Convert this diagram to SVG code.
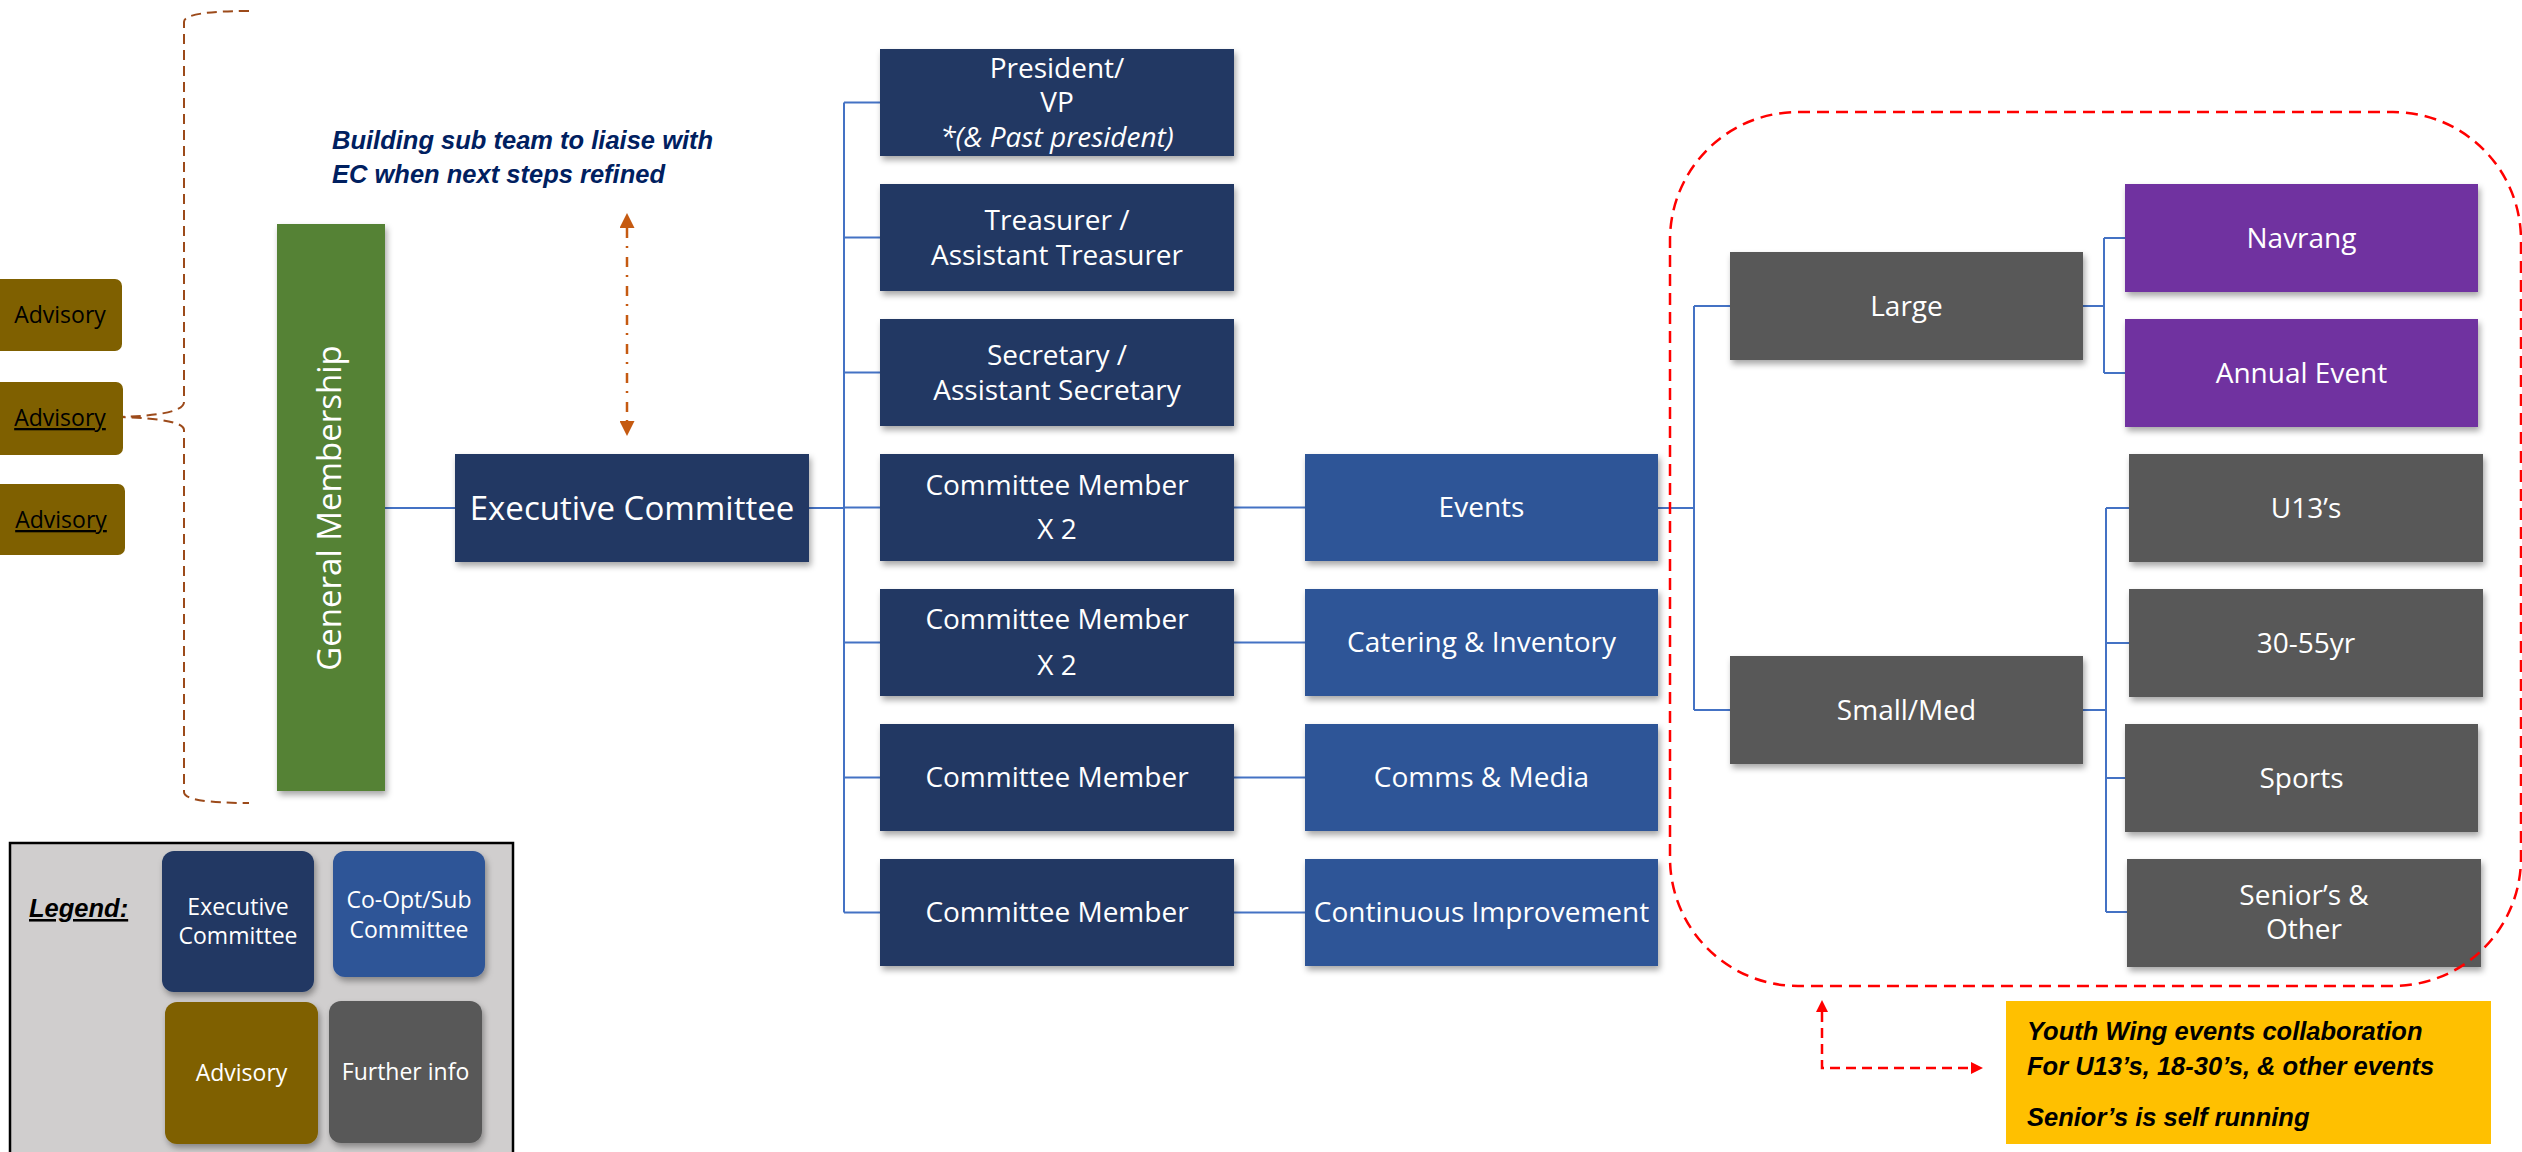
<svg xmlns="http://www.w3.org/2000/svg" width="2522" height="1152" viewBox="0 0 2522 1152">
<style>
  .t { font-family: "Open Sans", "DejaVu Sans", sans-serif; fill: #ffffff; text-anchor: middle; }
  .m { font-size: 28px; }
  .big { font-size: 33px; }
  .adv { font-family: "Open Sans", sans-serif; font-size: 23px; fill: #000000; text-anchor: middle; }
  .lg { font-size: 23px; }
  .note { font-family: "Liberation Sans", Arial, sans-serif; font-weight: bold; font-style: italic; font-size: 25.5px; }
  .ec { fill: #203864; }
  .sub { fill: #2F5597; }
  .gray { fill: #595959; }
  .pur { fill: #7030A0; }
  .advb { fill: #7F6000; }
  .conn { stroke: #4472C4; stroke-width: 2; fill: none; }
</style>
<defs>
  <filter id="sh" x="-10%" y="-10%" width="120%" height="130%">
    <feDropShadow dx="2" dy="4" stdDeviation="3" flood-color="#000" flood-opacity="0.35"/>
  </filter>
  <marker id="ao" viewBox="0 0 10 10" refX="0" refY="5" markerWidth="15" markerHeight="15" markerUnits="userSpaceOnUse" orient="auto-start-reverse">
    <path d="M0,0 L10,5 L0,10 z" fill="#C55A11"/>
  </marker>
  <marker id="ar" viewBox="0 0 10 10" refX="0" refY="5" markerWidth="12" markerHeight="12" markerUnits="userSpaceOnUse" orient="auto-start-reverse">
    <path d="M0,0 L10,5 L0,10 z" fill="#FF0000"/>
  </marker>
</defs>
<rect width="2522" height="1152" fill="#ffffff"/>

<!-- connectors -->
<g id="connectors">
  <path class="conn" d="M385,508 H455"/>
  <path class="conn" d="M809,508 H844 M844,102.5 V912.5 M844,102.5 H880 M844,237.5 H880 M844,372.5 H880 M844,507.5 H880 M844,642.5 H880 M844,777.5 H880 M844,912.5 H880"/>
  <path class="conn" d="M1234,507.5 H1305 M1234,642.5 H1305 M1234,777.5 H1305 M1234,912.5 H1305"/>
  <path class="conn" d="M1658,508 H1694 M1694,306 V710 M1694,306 H1730 M1694,710 H1730"/>
  <path class="conn" d="M2083,306 H2104 M2104,238 V373 M2104,238 H2125 M2104,373 H2125"/>
  <path class="conn" d="M2083,710 H2106 M2106,508 V912 M2106,508 H2129 M2106,643 H2129 M2106,778 H2125 M2106,912 H2127"/>
  <path d="M249,11 Q184,11 184,22 V402 Q184,415 120,417 Q184,419 184,430 V792 Q184,803 249,803" fill="none" stroke="#9C4A1A" stroke-width="2" stroke-dasharray="10 6"/>
  <path d="M627,228 V421" fill="none" stroke="#C55A11" stroke-width="2.5" stroke-dasharray="10 8 2 9" marker-start="url(#ao)" marker-end="url(#ao)"/>
  <path d="M1822,1012 V1068 H1971" fill="none" stroke="#FF0000" stroke-width="2.5" stroke-dasharray="10 6" marker-start="url(#ar)" marker-end="url(#ar)"/>
</g>

<!-- advisory -->
<g id="advisory1">
  <rect x="-10" y="279" width="132" height="72" rx="7" class="advb"/>
  <text x="60" y="323" class="adv">Advisory</text>
</g>
<g id="advisory2">
  <rect x="-10" y="382" width="133" height="73" rx="7" class="advb"/>
  <text x="60" y="426" class="adv" text-decoration="underline">Advisory</text>
</g>
<g id="advisory3">
  <rect x="-10" y="484" width="135" height="71" rx="7" class="advb"/>
  <text x="61" y="528" class="adv" text-decoration="underline">Advisory</text>
</g>

<!-- general membership -->
<g id="general-membership">
  <rect x="277" y="224" width="108" height="567" fill="#548235" filter="url(#sh)"/>
  <text class="t big" transform="translate(341,508) rotate(-90)">General Membership</text>
</g>

<!-- note -->
<g id="note-building">
  <text class="note" fill="#002060" x="332" y="149">Building sub team to liaise with</text>
  <text class="note" fill="#002060" x="332" y="183">EC when next steps refined</text>
</g>

<!-- executive committee -->
<g id="executive-committee">
  <rect x="455" y="454" width="354" height="108" class="ec" filter="url(#sh)"/>
  <text class="t big" x="632" y="520">Executive Committee</text>
</g>

<!-- middle column -->
<g id="president">
  <rect x="880" y="49" width="354" height="107" class="ec" filter="url(#sh)"/>
  <text class="t m" x="1057" y="78">President/</text>
  <text class="t m" x="1057" y="112">VP</text>
  <text class="t m" x="1057" y="147" font-style="italic">*(&amp; Past president)</text>
</g>
<g id="treasurer">
  <rect x="880" y="184" width="354" height="107" class="ec" filter="url(#sh)"/>
  <text class="t m" x="1057" y="230">Treasurer /</text>
  <text class="t m" x="1057" y="265">Assistant Treasurer</text>
</g>
<g id="secretary">
  <rect x="880" y="319" width="354" height="107" class="ec" filter="url(#sh)"/>
  <text class="t m" x="1057" y="365">Secretary /</text>
  <text class="t m" x="1057" y="400">Assistant Secretary</text>
</g>
<g id="committee-member-1">
  <rect x="880" y="454" width="354" height="107" class="ec" filter="url(#sh)"/>
  <text class="t m" x="1057" y="495">Committee Member</text>
  <text class="t m" x="1057" y="539">X 2</text>
</g>
<g id="committee-member-2">
  <rect x="880" y="589" width="354" height="107" class="ec" filter="url(#sh)"/>
  <text class="t m" x="1057" y="629">Committee Member</text>
  <text class="t m" x="1057" y="675">X 2</text>
</g>
<g id="committee-member-3">
  <rect x="880" y="724" width="354" height="107" class="ec" filter="url(#sh)"/>
  <text class="t m" x="1057" y="787">Committee Member</text>
</g>
<g id="committee-member-4">
  <rect x="880" y="859" width="354" height="107" class="ec" filter="url(#sh)"/>
  <text class="t m" x="1057" y="922">Committee Member</text>
</g>

<!-- sub committees -->
<g id="events">
  <rect x="1305" y="454" width="353" height="107" class="sub" filter="url(#sh)"/>
  <text class="t m" x="1481.5" y="517">Events</text>
</g>
<g id="catering">
  <rect x="1305" y="589" width="353" height="107" class="sub" filter="url(#sh)"/>
  <text class="t m" x="1481.5" y="652">Catering &amp; Inventory</text>
</g>
<g id="comms">
  <rect x="1305" y="724" width="353" height="107" class="sub" filter="url(#sh)"/>
  <text class="t m" x="1481.5" y="787">Comms &amp; Media</text>
</g>
<g id="continuous">
  <rect x="1305" y="859" width="353" height="107" class="sub" filter="url(#sh)"/>
  <text class="t m" x="1481.5" y="922">Continuous Improvement</text>
</g>

<!-- events breakdown -->
<g id="large">
  <rect x="1730" y="252" width="353" height="108" class="gray" filter="url(#sh)"/>
  <text class="t m" x="1906.5" y="316">Large</text>
</g>
<g id="small-med">
  <rect x="1730" y="656" width="353" height="108" class="gray" filter="url(#sh)"/>
  <text class="t m" x="1906.5" y="720">Small/Med</text>
</g>
<g id="navrang">
  <rect x="2125" y="184" width="353" height="108" class="pur" filter="url(#sh)"/>
  <text class="t m" x="2301.5" y="248">Navrang</text>
</g>
<g id="annual-event">
  <rect x="2125" y="319" width="353" height="108" class="pur" filter="url(#sh)"/>
  <text class="t m" x="2301.5" y="383">Annual Event</text>
</g>
<g id="u13">
  <rect x="2129" y="454" width="354" height="108" class="gray" filter="url(#sh)"/>
  <text class="t m" x="2306" y="518">U13’s</text>
</g>
<g id="age-30-55">
  <rect x="2129" y="589" width="354" height="108" class="gray" filter="url(#sh)"/>
  <text class="t m" x="2306" y="653">30-55yr</text>
</g>
<g id="sports">
  <rect x="2125" y="724" width="353" height="108" class="gray" filter="url(#sh)"/>
  <text class="t m" x="2301.5" y="788">Sports</text>
</g>
<g id="seniors">
  <rect x="2127" y="859" width="354" height="108" class="gray" filter="url(#sh)"/>
  <text class="t m" x="2304" y="905">Senior’s &amp;</text>
  <text class="t m" x="2304" y="939">Other</text>
</g>

<!-- red dashed group -->
<g id="events-boundary">
  <rect x="1670" y="112" width="851" height="874" rx="128" ry="128" fill="none" stroke="#FF0000" stroke-width="2.5" stroke-dasharray="12 7"/>
</g>

<!-- youth wing note -->
<g id="youth-wing">
  <rect x="2006" y="1001" width="485" height="143" fill="#FFC000"/>
  <text class="note" fill="#000000" x="2027" y="1040">Youth Wing events collaboration</text>
  <text class="note" fill="#000000" x="2027" y="1075">For U13’s, 18-30’s, &amp; other events</text>
  <text class="note" fill="#000000" x="2027" y="1126">Senior’s is self running</text>
</g>

<!-- legend -->
<g id="legend">
  <rect x="10" y="843" width="503" height="330" fill="#D0CECE" stroke="#000000" stroke-width="2.5"/>
  <text class="note" fill="#000000" x="29" y="917" font-size="27" text-decoration="underline">Legend:</text>
  <rect x="162" y="851" width="152" height="141" rx="12" class="ec" filter="url(#sh)"/>
  <text class="t lg" x="238" y="915">Executive</text>
  <text class="t lg" x="238" y="944">Committee</text>
  <rect x="333" y="851" width="152" height="126" rx="12" class="sub" filter="url(#sh)"/>
  <text class="t lg" x="409" y="908">Co-Opt/Sub</text>
  <text class="t lg" x="409" y="938">Committee</text>
  <rect x="165" y="1002" width="153" height="142" rx="12" class="advb" filter="url(#sh)"/>
  <text class="t lg" x="241.5" y="1081">Advisory</text>
  <rect x="329" y="1001" width="153" height="142" rx="12" class="gray" filter="url(#sh)"/>
  <text class="t lg" x="405.5" y="1080">Further info</text>
</g>
</svg>
